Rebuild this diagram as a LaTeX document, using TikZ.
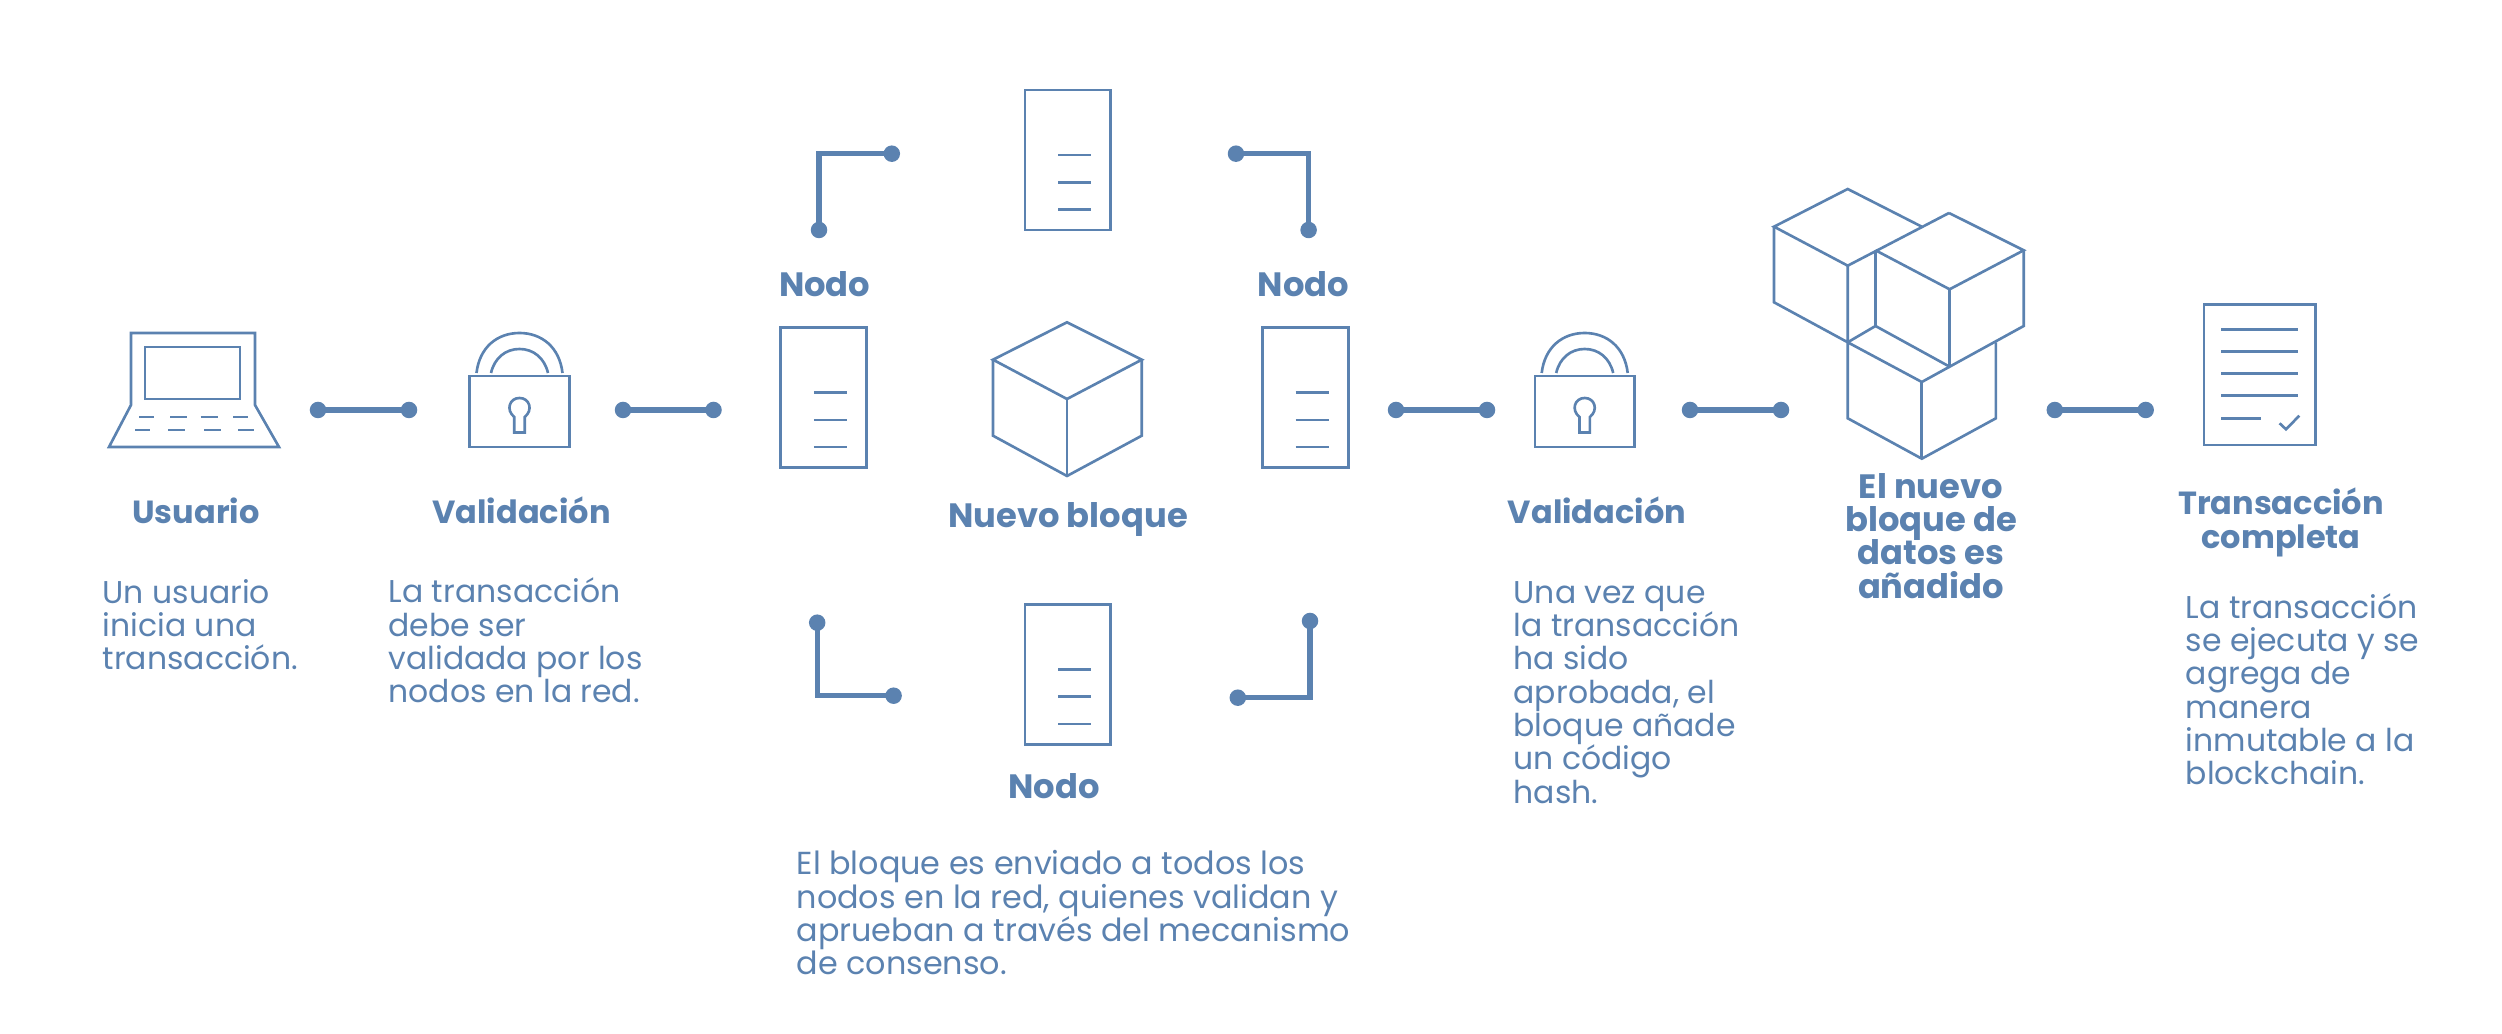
\documentclass[tikz,border=0pt]{standalone}
\usepackage{fontspec}
\setmainfont{Poppins}[BoldFont=* Bold]
\definecolor{azul}{HTML}{5B82B0}
\lineskiplimit=-20pt
\tikzset{
  icon/.style={draw=azul,line width=0.75pt,line join=miter},
  serverbox/.style={icon,rectangle,inner sep=0pt,minimum width=0.855cm,minimum height=1.4cm},
  dot/.style={circle,fill=azul,inner sep=0pt,outer sep=0pt,minimum size=0.165cm},
  link/.style={draw=azul,line width=1.5pt,shorten >=-1pt,shorten <=-1pt},
  titulo/.style={text=azul,inner sep=0pt,anchor=base,align=center,font=\fontsize{9.1}{9.48}\selectfont\bfseries},
  tituloG/.style={titulo,font=\fontsize{9.6}{9.48}\selectfont\bfseries},
  texto/.style={text=azul,inner sep=0pt,anchor=base west,align=left,font=\fontsize{8.95}{9.48}\selectfont}
}
\begin{document}
\begin{tikzpicture}[x=0.01cm,y=-0.01cm]
\useasboundingbox (0,0) rectangle (2502,1034);
% laptop
\draw[icon] (131,405) -- (131,333) -- (255,333) -- (255,405) -- (279,447) -- (109,447) -- cycle;
\draw[icon] (145,347) rectangle (240,399);
\foreach \xa/\xb in {139/154,170/187,200.5/218,233/248}
  \draw[icon] (\xa,417) -- (\xb,417);
\foreach \xa/\xb in {135/150,168/185,204/221,238/254}
  \draw[icon] (\xa,430) -- (\xb,430);
% locks
\foreach \name/\cx in {lockA/519.5,lockB/1584.7}{
  \node[icon,rectangle,inner sep=0pt,minimum width=0.995cm,minimum height=0.71cm] (\name) at (\cx,411.5) {};
  \begin{scope}[shift={(\cx,0)}]
    \draw[icon] (-43,373) .. controls (-40,347) and (-22,333) .. (0,333) .. controls (22,333) and (40,347) .. (43,373);
    \draw[icon] (-28.5,373) .. controls (-25,358) and (-14,349) .. (0,349) .. controls (14,349) and (25,358) .. (28.5,373);
    \draw[icon] (-5.2,432.5) -- (-5.2,417) .. controls (-14,410) and (-10,398) .. (0,398) .. controls (10,398) and (14,410) .. (5.2,417) -- (5.2,432.5) -- cycle;
  \end{scope}
}
% servers
\foreach \name/\cx/\cy in {srvTop/1067.75/160,srvLeft/823.5/397.7,srvRight/1305.4/397.7,srvBottom/1067.75/674.5}{
  \node[serverbox] (\name) at (\cx,\cy) {};
  \foreach \dy in {-5,22.2,49.4}
    \draw[icon] (\cx-9.75,\cy+\dy) -- (\cx+23.25,\cy+\dy);
}
% new block
\draw[icon] (1067,322.3) -- (993,359.7) -- (1067,399) -- (1141.8,359.7) -- cycle;
\draw[icon] (993,359.7) -- (993,435.7) -- (1067,476) -- (1141.8,435.7) -- (1141.8,359.7);
\draw[icon] (1067,399) -- (1067,476);
% chain of blocks
\draw[icon] (1921.8,226.7) -- (1847.7,189) -- (1774,226.7) -- (1847.7,265.7) -- (1949,213);
\draw[icon] (1774,226.7) -- (1774,302.3) -- (1847.7,342.3) -- (1847.7,265.7);
\draw[icon] (1949,213) -- (2023.7,250.3) -- (1949.6,289.3) -- (1875.5,250.3);
\draw[icon] (1949.6,289.3) -- (1949.6,366.7);
\draw[icon] (1875.5,250.3) -- (1875.5,326) -- (1949.6,366.7) -- (2023.7,326) -- (2023.7,250.3);
\draw[icon] (1847.7,342.3) -- (1875.5,326);
\draw[icon] (1949.6,366.7) -- (1921.8,382) -- (1847.7,342.3) -- (1847.7,418.3) -- (1921.8,458.7) -- (1995.9,418.3) -- (1995.9,342.3);
\draw[icon] (1921.8,382) -- (1921.8,458.7);
% document
\node[icon,rectangle,inner sep=0pt,minimum width=1.117cm,minimum height=1.403cm] (doc) at (2259.8,374.9) {};
\foreach \y in {329.3,351.3,373.3,395.7}
  \draw[icon] (2221,\y) -- (2297.6,\y);
\draw[icon] (2221,418.3) -- (2261.4,418.3);
\draw[icon] (2279.6,423.3) -- (2286,429.3) -- (2299.3,415.7);
% connectors
\foreach \name/\xa/\xb in {A/318/409,B/623/713.5,C/1396/1487,D/1690/1781,E/2054.8/2145.7}{
  \node[dot] (\name1) at (\xa,410) {};
  \node[dot] (\name2) at (\xb,410) {};
  \draw[link] (\name1) -- (\name2);
}
\node[dot] (tl1) at (819,230) {};
\node[dot] (tl2) at (891.8,153.7) {};
\node[dot] (tr1) at (1308.6,230) {};
\node[dot] (tr2) at (1236,153.7) {};
\node[dot] (bl1) at (817.2,622.7) {};
\node[dot] (bl2) at (893.6,695.7) {};
\node[dot] (br1) at (1310,621) {};
\node[dot] (br2) at (1237.8,697.7) {};
\draw[link] (tl1) |- (tl2);
\draw[link] (tr1) |- (tr2);
\draw[link] (bl1) |- (bl2);
\draw[link] (br1) |- (br2);
% titles
\node[titulo] (tUsuario) at (196,524) {Usuario};
\node[titulo] (tValidaA) at (521.5,524) {Validación};
\node[tituloG] (tNodoL) at (824.7,296.7) {Nodo};
\node[tituloG] (tNodoR) at (1303.5,296.7) {Nodo};
\node[tituloG] (tBloque) at (1068,527.3) {Nuevo bloque};
\node[tituloG] (tNodoB) at (1054,798.3) {Nodo};
\node[titulo] (tValidaB) at (1597,524) {Validación};
\node[tituloG] (tNuevo) at (1931,598.3) {El nuevo\\bloque de\\datos es\\añadido};
\node[titulo] (tCompleta) at (2281,548.3) {Transacción\\completa};
% texts
\node[texto] (dUsuario) at (102,670) {Un usuario\\inicia una\\transacción.};
\node[texto] (dValida) at (388,703) {La transacción\\debe ser\\validada por los\\nodos en la red.};
\node[texto,font=\fontsize{9.05}{9.48}\selectfont] (dBloque) at (796,975) {El bloque es enviado a todos los\\nodos en la red, quienes validan y\\aprueban a través del mecanismo\\de consenso.};
\node[texto] (dHash) at (1513,803.3) {Una vez que\\la transacción\\ha sido\\aprobada, el\\bloque añade\\un código\\hash.};
\node[texto] (dCompleta) at (2185,785) {La transacción\\se ejecuta y se\\agrega de\\manera\\inmutable a la\\blockchain.};
\end{tikzpicture}
\end{document}
